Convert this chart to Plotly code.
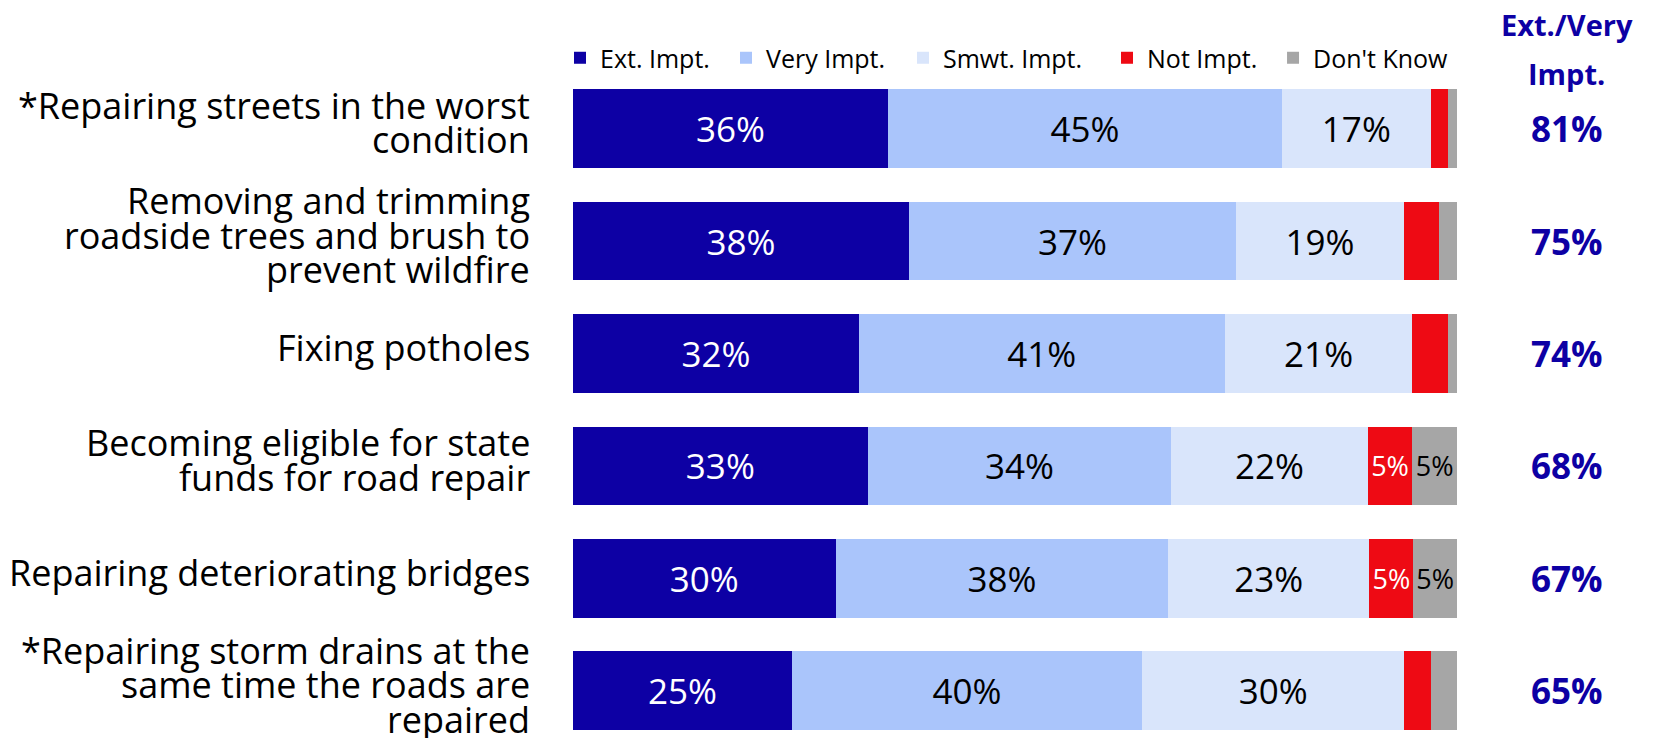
import plotly.graph_objects as go

categories = [
    "*Repairing streets in the worst<br>condition",
    "Removing and trimming<br>roadside trees and brush to<br>prevent wildfire",
    "Fixing potholes",
    "Becoming eligible for state<br>funds for road repair",
    "Repairing deteriorating bridges",
    "*Repairing storm drains at the<br>same time the roads are<br>repaired",
]
series_names = ["Ext. Impt.", "Very Impt.", "Smwt. Impt.", "Not Impt.", "Don't Know"]
ext_impt = [36, 38, 32, 33, 30, 25]
very_impt = [45, 37, 41, 34, 38, 40]
smwt_impt = [17, 19, 21, 22, 23, 30]
not_impt = [2, 4, 4, 5, 5, 3]
dont_know = [1, 2, 1, 5, 5, 3]
ext_very_total = [81, 75, 74, 68, 67, 65]

series_values = [ext_impt, very_impt, smwt_impt, not_impt, dont_know]
colors = ["#0d00a4", "#aac5fb", "#d9e5fb", "#ee0a14", "#a6a6a6"]
text_colors = ["white", "black", "black", "white", "black"]
text_sizes = [35, 35, 35, 27, 27]
legend_ids = ["legend", "legend2", "legend3", "legend4", "legend5"]
legend_x = [-0.0147, 0.1731, 0.3733, 0.6041, 0.7919]

row_sums = [sum(s[i] for s in series_values) for i in range(len(categories))]
ykeys = [f"c{i}" for i in range(len(categories))]

FONT = "'Open Sans', Lato, sans-serif"
fig = go.Figure()
for k, (name, vals, col, tc, ts) in enumerate(zip(series_names, series_values, colors, text_colors, text_sizes)):
    fig.add_trace(go.Bar(
        y=ykeys,
        x=[v / row_sums[i] * 100 for i, v in enumerate(vals)],
        name=name,
        orientation="h",
        marker=dict(color=col, line=dict(width=0)),
        text=[f"{v}%" if v >= 5 else "" for v in vals],
        textposition="inside",
        insidetextanchor="middle",
        constraintext="none",
        textangle=0,
        textfont=dict(color=tc, size=ts, family=FONT),
        width=0.70,
        hoverinfo="skip",
        legend=legend_ids[k],
    ))

annotations = []
line_h = 34.5
for key, lab in zip(ykeys, categories):
    lines = lab.split("<br>")
    n = len(lines)
    for j, ln in enumerate(lines):
        annotations.append(dict(
            xref="paper", yref="y", x=0, y=key, xanchor="right", yanchor="middle",
            xshift=-41, yshift=((n - 1) / 2 - j) * line_h + 6,
            text=ln, showarrow=False,
            font=dict(size=36, color="black", family=FONT),
        ))

for key, tot in zip(ykeys, ext_very_total):
    annotations.append(dict(
        xref="paper", yref="y", x=1.124, y=key, xanchor="center", yanchor="middle",
        text=f"<b>{tot}%</b>", showarrow=False,
        font=dict(size=35, color="#0d00a4", family=FONT),
    ))

for txt, yy in [("<b>Ext./Very</b>", 1.071), ("<b>Impt.</b>", 0.998)]:
    annotations.append(dict(
        xref="paper", yref="paper", x=1.124, y=yy, xanchor="center", yanchor="middle",
        text=txt, showarrow=False,
        font=dict(size=29, color="#0d00a4", family=FONT),
    ))

legend_layout = {}
for lid, lx in zip(legend_ids, legend_x):
    legend_layout[lid] = dict(
        orientation="h", x=lx, y=1.021, xanchor="left", yanchor="middle",
        font=dict(size=25, color="black", family=FONT),
        itemwidth=30, bgcolor="rgba(0,0,0,0)",
    )

fig.update_layout(
    barmode="stack",
    width=1667, height=738,
    margin=dict(l=573, r=210, t=72, b=0, autoexpand=False),
    paper_bgcolor="white", plot_bgcolor="white",
    showlegend=True,
    xaxis=dict(range=[0, 100], visible=False, fixedrange=True),
    yaxis=dict(range=[5.42, -0.503], categoryorder="array", categoryarray=ykeys,
               visible=False, fixedrange=True),
    annotations=annotations,
    **legend_layout,
)

fig.write_html(
    "out.html",
    config={"displayModeBar": False},
    post_script="document.body.style.margin='0';document.body.style.overflow='hidden';",
)
